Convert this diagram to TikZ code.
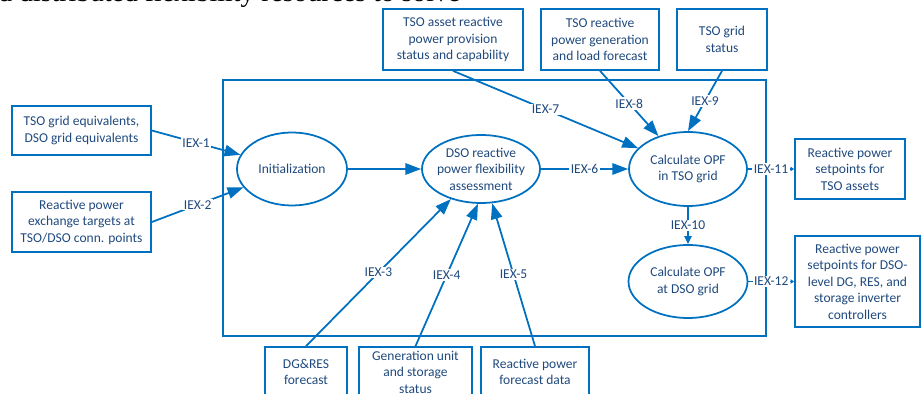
\documentclass[tikz,border=0pt]{standalone}
\usepackage{fontspec}
\setmainfont{Carlito}
\newfontfamily\pagetextfont{Liberation Serif}
\usepackage{tikz}
\usetikzlibrary{arrows.meta,shapes.geometric}
\definecolor{lineblue}{RGB}{0,112,192}
\definecolor{txtblue}{RGB}{31,73,125}
\newcommand{\iexfont}{\fontsize{7.7}{9.4}\selectfont}

\begin{document}
\begin{tikzpicture}[x=0.02cm,y=-0.02cm,
    every node/.style={font=\iexfont,text=txtblue},
    box/.style={draw=lineblue,line width=1pt,align=center,inner sep=0pt},
    oval/.style={draw=lineblue,line width=1pt,ellipse,align=center,inner xsep=-2pt,inner ysep=-1pt},
    iex/.style={fill=white,inner sep=0.8pt},
    flow/.style={draw=lineblue,line width=1pt,-{Triangle[length=9pt,width=6.5pt]}},
    flowmid/.style={draw=lineblue,line width=1pt,-{Triangle[length=4.5pt,width=4pt]}},
    flowsmall/.style={draw=lineblue,line width=1pt,-{Triangle[length=2pt,width=2.5pt]}}]
    \useasboundingbox (0,0) rectangle (922,394);
    \clip (0,0) rectangle (922,394);
    \node[anchor=base west,inner sep=0pt,text=black,font=\pagetextfont\fontsize{15.8}{18}\selectfont] (cap) at (-2,1.5) {d distributed flexibility resources to solve};
    \draw[lineblue,line width=1pt] (223,80) rectangle (766,336);
    \node[box,minimum width=2.78cm,minimum height=0.98cm] (b1) at (81.5,130.5) {TSO grid equivalents,\\DSO grid equivalents};
    \node[box,minimum width=2.78cm,minimum height=1.2cm] (b2) at (81.5,222) {Reactive power\\exchange targets at\\TSO/DSO conn. points};
    \node[box,minimum width=2.8cm,minimum height=1.22cm] (t1) at (453,39.5) {TSO asset reactive\\power provision\\status and capability};
    \node[box,minimum width=2.36cm,minimum height=1.22cm] (t2) at (600,39.5) {TSO reactive\\power generation\\and load forecast};
    \node[box,minimum width=1.8cm,minimum height=1.22cm] (t3) at (722,39.5) {TSO grid\\status};
    \node[box,minimum width=2.2cm,minimum height=1.2cm] (r1) at (850,169) {Reactive power\\setpoints for\\TSO assets};
    \node[box,minimum width=2.5cm,minimum height=1.82cm] (r2) at (857.5,281.5) {Reactive power\\setpoints for DSO-\\level DG, RES, and\\storage inverter\\controllers};
    \node[box,minimum width=1.64cm,minimum height=1.0cm] (d1) at (306,372) {DG\&RES\\forecast};
    \node[box,minimum width=2.26cm,minimum height=1.0cm] (d2) at (415.5,372) {Generation unit\\and storage\\status};
    \node[box,minimum width=2.16cm,minimum height=1.0cm] (d3) at (535,372) {Reactive power\\forecast data};
    \node[oval,minimum width=2.2cm,minimum height=1.46cm] (init) at (292,169) {Initialization};
    \node[oval,minimum width=2.36cm,minimum height=1.36cm] (dso) at (481,169) {DSO reactive\\power flexibility\\assessment};
    \node[oval,minimum width=2.36cm,minimum height=1.48cm] (opft) at (688,169) {Calculate OPF\\in TSO grid};
    \node[oval,minimum width=2.38cm,minimum height=1.46cm] (opfd) at (688,281.5) {Calculate OPF\\at DSO grid};
    \draw[flow] (b1.east) to node[iex] {IEX-1} (init);
    \draw[flow] (b2.east) to node[iex] {IEX-2} (init);
    \draw[flow] (init) to (dso);
    \draw[flow] (d1.north) to node[iex] {IEX-3} (dso.-135);
    \draw[flow] (d2.north) to node[iex] {IEX-4} (dso.-95);
    \draw[flow] (d3.north) to node[iex] {IEX-5} (dso.-72);
    \draw[flow] (dso) to node[iex] {IEX-6} (opft);
    \draw[flow] (t1.south) to node[iex] {IEX-7} (opft);
    \draw[flow] (t2.south) to node[iex] {IEX-8} (opft);
    \draw[flow] (t3.south) to node[iex] {IEX-9} (opft.north);
    \draw[flowmid] (opft) to node[iex] {IEX-10} (opfd);
    \draw[flowsmall] (opft) to node[iex] {IEX-11} (r1);
    \draw[flowsmall] (opfd) to node[iex] {IEX-12} (r2);
\end{tikzpicture}
\end{document}
